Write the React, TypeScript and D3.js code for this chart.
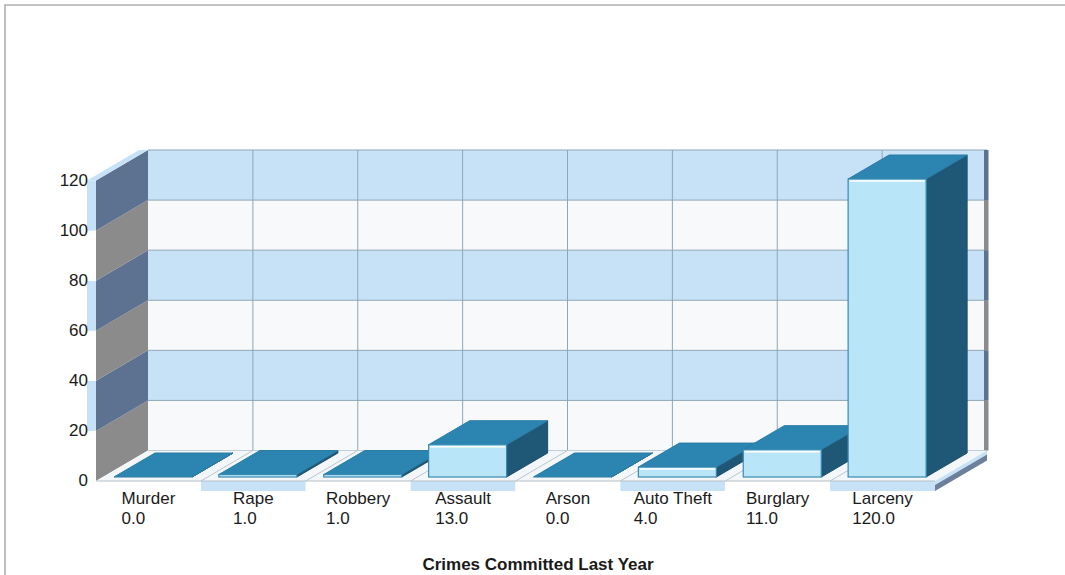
import React, { useEffect, useRef } from "react";
import * as d3 from "d3";

const categories = ["Murder", "Rape", "Robbery", "Assault", "Arson", "Auto Theft", "Burglary", "Larceny"];
const values = [0, 1, 1, 13, 0, 4, 11, 120];
const valueLabels = ["0.0", "1.0", "1.0", "13.0", "0.0", "4.0", "11.0", "120.0"];
const yTicks = [0, 20, 40, 60, 80, 100, 120];
const chartTitle = "Crimes Committed Last Year";

const FONT = "'Liberation Sans', Arial, sans-serif";

export default function App() {
  const ref = useRef<SVGSVGElement>(null);

  useEffect(() => {
    const svg = d3.select(ref.current);
    svg.selectAll("*").remove();

    const DX = 52;
    const DY = -30.5;
    const X0 = 96;
    const X1 = 935;
    const y = d3.scaleLinear().domain([0, 120]).range([481, 180.5]);
    const yBar = d3.scaleLinear().domain([0, 120]).range([477, 179]);
    const x = d3.scaleBand<string>().domain(categories).range([X0, X1]).padding(0);
    const bw = x.bandwidth();

    const BAR_OFF = 18;
    const BAR_W = 78;
    const BDX = 41;
    const BDY = -24;

    const blueLight = "#c7e2f7";
    const whiteBand = "#f8f9fa";
    const slate = "#5d7191";
    const gray = "#8b8b8b";
    const gridC = "#8ea6b6";

    const poly = (pts: [number, number][]) => "M" + pts.map((p) => p.join(",")).join("L") + "Z";

    svg.append("rect").attr("width", 1065).attr("height", 575).attr("fill", "#ffffff");
    svg
      .append("path")
      .attr("d", "M5,575L5,5L1065,5")
      .attr("fill", "none")
      .attr("stroke", "#b0b0b0")
      .attr("stroke-width", 1.6);

    const bands = d3.range(yTicks.length - 1).map((k) => ({ k, v0: yTicks[k], v1: yTicks[k + 1] }));

    // back wall bands
    svg
      .selectAll("rect.back")
      .data(bands)
      .join("rect")
      .attr("x", X0 + DX)
      .attr("y", (d) => y(d.v1) + DY)
      .attr("width", X1 - X0)
      .attr("height", (d) => y(d.v0) - y(d.v1))
      .attr("fill", (d) => (d.k % 2 === 1 ? blueLight : whiteBand));

    // back wall horizontal grid
    svg
      .selectAll("line.hgrid")
      .data(yTicks)
      .join("line")
      .attr("x1", X0 + DX)
      .attr("x2", X1 + DX)
      .attr("y1", (d) => y(d) + DY)
      .attr("y2", (d) => y(d) + DY)
      .attr("stroke", gridC)
      .attr("stroke-width", 1);

    // back wall vertical grid
    svg
      .selectAll("line.vgrid")
      .data(categories.slice(1))
      .join("line")
      .attr("x1", (d) => (x(d) as number) + DX)
      .attr("x2", (d) => (x(d) as number) + DX)
      .attr("y1", y(120) + DY)
      .attr("y2", y(0) + DY)
      .attr("stroke", gridC)
      .attr("stroke-width", 1);

    // right wall edge
    svg
      .selectAll("rect.rwall")
      .data(bands)
      .join("rect")
      .attr("x", X1 + DX - 3)
      .attr("y", (d) => y(d.v1) + DY)
      .attr("width", 4.5)
      .attr("height", (d) => y(d.v0) - y(d.v1))
      .attr("fill", (d) => (d.k % 2 === 1 ? slate : gray));

    // left side wall
    svg
      .selectAll("path.lwall")
      .data(bands)
      .join("path")
      .attr("d", (d) =>
        poly([
          [X0, y(d.v0)],
          [X0 + DX, y(d.v0) + DY],
          [X0 + DX, y(d.v1) + DY],
          [X0, y(d.v1)],
        ])
      )
      .attr("fill", (d) => (d.k % 2 === 1 ? slate : gray));

    // left wall front strip
    svg
      .selectAll("rect.lfront")
      .data(bands)
      .join("rect")
      .attr("x", X0 - 9)
      .attr("y", (d) => y(d.v1))
      .attr("width", 9)
      .attr("height", (d) => y(d.v0) - y(d.v1))
      .attr("fill", (d) => (d.k % 2 === 1 ? blueLight : "#ffffff"));
    svg
      .append("path")
      .attr(
        "d",
        poly([
          [X0 - 9, y(120)],
          [X0, y(120)],
          [X0 + DX, y(120) + DY],
          [X0 + DX - 9, y(120) + DY],
        ])
      )
      .attr("fill", blueLight);

    // floor
    svg
      .append("path")
      .attr(
        "d",
        poly([
          [X0, y(0)],
          [X1, y(0)],
          [X1 + DX, y(0) + DY],
          [X0 + DX, y(0) + DY],
        ])
      )
      .attr("fill", "#f4f7f9");
    svg
      .selectAll("line.fgrid")
      .data(categories.slice(1))
      .join("line")
      .attr("x1", (d) => x(d) as number)
      .attr("x2", (d) => (x(d) as number) + DX)
      .attr("y1", y(0))
      .attr("y2", y(0) + DY)
      .attr("stroke", "#b9c6cf")
      .attr("stroke-width", 1);

    // floor front strip
    svg
      .selectAll("rect.ffront")
      .data(categories)
      .join("rect")
      .attr("x", (d) => x(d) as number)
      .attr("y", y(0))
      .attr("width", bw)
      .attr("height", 10)
      .attr("fill", (d, i) => (i % 2 === 1 ? blueLight : "#ffffff"));
    svg
      .append("line")
      .attr("x1", X0)
      .attr("x2", X1)
      .attr("y1", y(0))
      .attr("y2", y(0))
      .attr("stroke", "#b4c0c8")
      .attr("stroke-width", 1);
    // floor right face
    svg
      .append("path")
      .attr(
        "d",
        poly([
          [X1, y(0)],
          [X1 + DX, y(0) + DY],
          [X1 + DX, y(0) + DY + 4],
          [X1, y(0) + 4],
        ])
      )
      .attr("fill", blueLight);
    svg
      .append("path")
      .attr(
        "d",
        poly([
          [X1, y(0) + 4],
          [X1 + DX, y(0) + DY + 4],
          [X1 + DX, y(0) + DY + 10],
          [X1, y(0) + 10],
        ])
      )
      .attr("fill", "#6c809b");

    // bars
    const barData = categories.map((c, i) => ({ c, v: values[i], i }));
    const g = svg.selectAll("g.bar").data(barData).join("g").attr("class", "bar");
    g.each(function (d) {
      const gg = d3.select(this);
      const bx = (x(d.c) as number) + BAR_OFF;
      const top = yBar(d.v);
      const base = yBar(0);
      // side face
      gg.append("path")
        .attr(
          "d",
          poly([
            [bx + BAR_W, top],
            [bx + BAR_W + BDX, top + BDY],
            [bx + BAR_W + BDX, base + BDY],
            [bx + BAR_W, base],
          ])
        )
        .attr("fill", "#1f5877")
        .attr("stroke", "#1d5170")
        .attr("stroke-width", 1)
        .attr("stroke-linejoin", "round");
      // top face
      gg.append("path")
        .attr(
          "d",
          poly([
            [bx, top],
            [bx + BAR_W, top],
            [bx + BAR_W + BDX, top + BDY],
            [bx + BDX, top + BDY],
          ])
        )
        .attr("fill", "#2c85b0")
        .attr("stroke", "#2a7ca6")
        .attr("stroke-width", 1)
        .attr("stroke-linejoin", "round");
      // front face
      if (base - top > 0.5) {
        gg.append("rect")
          .attr("x", bx)
          .attr("y", top)
          .attr("width", BAR_W)
          .attr("height", base - top)
          .attr("fill", "#b8e6f8")
          .attr("stroke", "#3a89b2")
          .attr("stroke-width", 1.2);
        if (base - top > 5) {
          gg.append("line")
            .attr("x1", bx + 1.5)
            .attr("x2", bx + BAR_W - 1.5)
            .attr("y1", top + 2)
            .attr("y2", top + 2)
            .attr("stroke", "#ffffff")
            .attr("stroke-width", 1.5);
        }
      }
    });

    // y tick labels
    svg
      .selectAll("text.ytick")
      .data(yTicks)
      .join("text")
      .attr("x", 88)
      .attr("y", (d) => y(d) + 1)
      .attr("text-anchor", "end")
      .attr("dominant-baseline", "middle")
      .attr("font-family", FONT)
      .attr("font-size", 17)
      .attr("fill", "#1a1a1a")
      .text((d) => String(d));

    // category labels
    categories.forEach((c, i) => {
      const cx = (x(c) as number) + bw / 2;
      const t = svg
        .append("text")
        .attr("font-family", FONT)
        .attr("font-size", 17)
        .attr("fill", "#1a1a1a");
      const t1 = t.append("tspan").attr("y", 503.5).text(c);
      const t2 = t.append("tspan").attr("y", 523.5).text(valueLabels[i]);
      const w1 = (t1.node() as SVGTSpanElement).getComputedTextLength();
      const w2 = (t2.node() as SVGTSpanElement).getComputedTextLength();
      const left = cx - Math.max(w1, w2) / 2;
      t1.attr("x", left);
      t2.attr("x", left);
    });

    // title
    svg
      .append("text")
      .attr("x", 538)
      .attr("y", 570)
      .attr("text-anchor", "middle")
      .attr("font-family", FONT)
      .attr("font-size", 17)
      .attr("font-weight", "bold")
      .attr("fill", "#1a1a1a")
      .text(chartTitle);
  }, []);

  return (
    <svg
      ref={ref}
      width={1065}
      height={575}
      style={{ position: "absolute", left: 0, top: 0, display: "block" }}
    />
  );
}
